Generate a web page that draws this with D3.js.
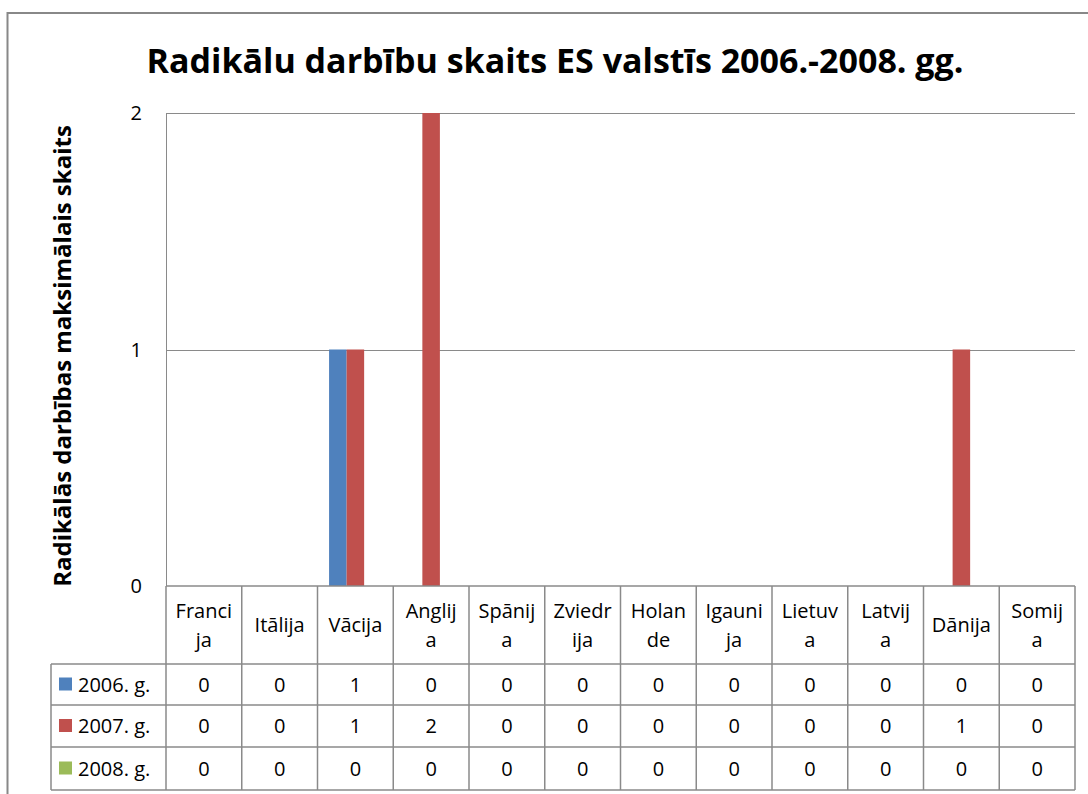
<!DOCTYPE html>
<html>
<head>
<meta charset="utf-8">
<script src="https://cdn.jsdelivr.net/npm/d3@7"></script>
<style>
  body { margin: 0; background: #fff; }
  text { font-family: "Open Sans", "Noto Sans", sans-serif; fill: #000; }
</style>
</head>
<body>
<div id="chart"></div>
<script>
// data
var categories = ["Francija", "Itālija", "Vācija", "Anglija", "Spānija", "Zviedrija",
  "Holande", "Igaunija", "Lietuva", "Latvija", "Dānija", "Somija"];
// how the names wrap in the table header
var categoryLines = [["Franci", "ja"], ["Itālija"], ["Vācija"], ["Anglij", "a"], ["Spānij", "a"],
  ["Zviedr", "ija"], ["Holan", "de"], ["Igauni", "ja"], ["Lietuv", "a"], ["Latvij", "a"],
  ["Dānija"], ["Somij", "a"]];
var seriesNames = ["2006. g.", "2007. g.", "2008. g."];
var values2006 = [0, 0, 1, 0, 0, 0, 0, 0, 0, 0, 0, 0];
var values2007 = [0, 0, 1, 2, 0, 0, 0, 0, 0, 0, 1, 0];
var values2008 = [0, 0, 0, 0, 0, 0, 0, 0, 0, 0, 0, 0];
var yTicks = [0, 1, 2];

var series = [values2006, values2007, values2008];
var colors = ["#4F81BD", "#C0504D", "#9BBB59"];

var width = 1088, height = 794;
var plot = { left: 166, right: 1075, top: 113, bottom: 586 };
var rowH = [78, 41, 42, 43]; // header row, then one per series
var legendLeft = 51;
var gridColor = "#8a8a8a";
var tableFont = "20px";

var svg = d3.select("#chart")
  .append("svg")
  .attr("width", width)
  .attr("height", height);

// outer chart frame
svg.append("path")
  .attr("d", "M7.5," + height + " V13 H" + width)
  .attr("fill", "none")
  .attr("stroke", "#888")
  .attr("stroke-width", 2);

var x = d3.scaleBand()
  .domain(categories)
  .range([plot.left, plot.right]);

var xs = d3.scaleBand()
  .domain(seriesNames)
  .range([0, x.bandwidth()])
  .paddingInner(0)
  .paddingOuter(0.66);

var y = d3.scaleLinear()
  .domain([0, 2])
  .range([plot.bottom, plot.top]);

// gridlines
svg.selectAll(".grid")
  .data(yTicks.filter(function (d) { return d > 0; }))
  .enter()
  .append("line")
  .attr("x1", plot.left)
  .attr("x2", plot.right)
  .attr("y1", function (d) { return Math.round(y(d)) + 0.5; })
  .attr("y2", function (d) { return Math.round(y(d)) + 0.5; })
  .attr("stroke", gridColor)
  .attr("stroke-width", 1);

// vertical axis line
svg.append("line")
  .attr("x1", plot.left + 0.5).attr("x2", plot.left + 0.5)
  .attr("y1", plot.top).attr("y2", plot.bottom)
  .attr("stroke", gridColor);

// tick labels
svg.selectAll(".ytick")
  .data(yTicks)
  .enter()
  .append("text")
  .attr("x", 142)
  .attr("y", function (d) { return y(d); })
  .attr("dy", "0.35em")
  .attr("text-anchor", "end")
  .style("font-size", "20px")
  .text(function (d) { return d; });

// bars
series.forEach(function (vals, si) {
  svg.selectAll(".bar" + si)
    .data(vals)
    .enter()
    .append("rect")
    .attr("x", function (d, i) { return x(categories[i]) + xs(seriesNames[si]); })
    .attr("width", xs.bandwidth())
    .attr("y", function (d) { return y(d); })
    .attr("height", function (d) { return y(0) - y(d); })
    .attr("fill", colors[si]);
});

// title
svg.append("text")
  .attr("x", 555)
  .attr("y", 73)
  .attr("text-anchor", "middle")
  .style("font-size", "34px")
  .style("font-weight", "bold")
  .text("Radikālu darbību skaits ES valstīs 2006.-2008. gg.");

// y axis title
svg.append("text")
  .attr("transform", "translate(71," + 356 + ") rotate(-90)")
  .attr("text-anchor", "middle")
  .style("font-size", "24px")
  .style("font-weight", "bold")
  .text("Radikālās darbības maksimālais skaits");

// data table
var rowTop = [plot.bottom];
rowH.forEach(function (h, i) { rowTop.push(rowTop[i] + h); });
var tableBottom = rowTop[rowTop.length - 1];

var table = svg.append("g")
  .attr("stroke", gridColor)
  .attr("stroke-width", 1.5);

// horizontal lines
rowTop.forEach(function (ty, i) {
  table.append("line")
    .attr("x1", i === 0 ? plot.left : legendLeft)
    .attr("x2", plot.right)
    .attr("y1", ty).attr("y2", ty);
});

// vertical lines
categories.forEach(function (c) {
  table.append("line")
    .attr("x1", x(c)).attr("x2", x(c))
    .attr("y1", plot.bottom).attr("y2", tableBottom);
});
table.append("line")
  .attr("x1", plot.right).attr("x2", plot.right)
  .attr("y1", plot.bottom).attr("y2", tableBottom);
table.append("line")
  .attr("x1", legendLeft).attr("x2", legendLeft)
  .attr("y1", rowTop[1]).attr("y2", tableBottom);

// header labels
categoryLines.forEach(function (lines, i) {
  var cx = x(categories[i]) + x.bandwidth() / 2;
  var cy = plot.bottom + rowH[0] / 2;
  var lh = 29;
  var t = svg.append("text")
    .attr("text-anchor", "middle")
    .style("font-size", tableFont);
  lines.forEach(function (ln, li) {
    t.append("tspan")
      .attr("x", cx)
      .attr("y", cy + (li - (lines.length - 1) / 2) * lh)
      .attr("dy", "0.35em")
      .text(ln);
  });
});

// value rows + legend
series.forEach(function (vals, si) {
  var cy = rowTop[si + 1] + rowH[si + 1] / 2;
  svg.append("rect")
    .attr("x", 59)
    .attr("y", cy - 7)
    .attr("width", 13)
    .attr("height", 13)
    .attr("fill", colors[si]);
  svg.append("text")
    .attr("x", 78)
    .attr("y", cy)
    .attr("dy", "0.35em")
    .style("font-size", tableFont)
    .text(seriesNames[si]);
  svg.selectAll(".val" + si)
    .data(vals)
    .enter()
    .append("text")
    .attr("x", function (d, i) { return x(categories[i]) + x.bandwidth() / 2; })
    .attr("y", cy)
    .attr("dy", "0.35em")
    .attr("text-anchor", "middle")
    .style("font-size", tableFont)
    .text(function (d) { return d; });
});
</script>
</body>
</html>
